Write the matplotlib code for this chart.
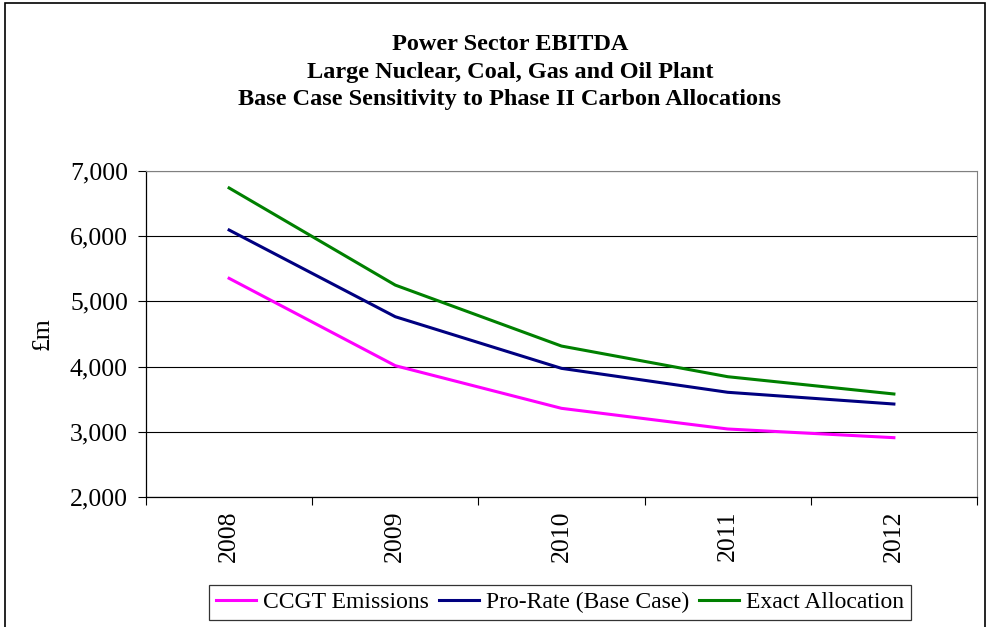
import matplotlib.pyplot as plt
from matplotlib.patches import Rectangle
from matplotlib.ticker import FuncFormatter, FixedLocator

years = ["2008", "2009", "2010", "2011", "2012"]
ccgt_emissions = [5354, 4014, 3360, 3043, 2910]
pro_rate = [6095, 4765, 3973, 3606, 3426]
exact_allocation = [6740, 5250, 4315, 3845, 3580]

title_lines = ["Power Sector EBITDA",
               "Large Nuclear, Coal, Gas and Oil Plant",
               "Base Case Sensitivity to Phase II Carbon Allocations"]

plt.rcParams['font.family'] = ['Liberation Serif', 'DejaVu Serif']
FS = 18.5

fig = plt.figure(figsize=(9.87, 6.27), dpi=100)
ax = fig.add_axes([146 / 987, 1 - 497 / 627, 831 / 987, 326 / 627])

x = list(range(len(years)))
ax.plot(x, ccgt_emissions, color='#ff00ff', lw=2.2, label='CCGT Emissions')
ax.plot(x, pro_rate, color='#000080', lw=2.2, label='Pro-Rate (Base Case)')
ax.plot(x, exact_allocation, color='#008000', lw=2.2, label='Exact Allocation')

ax.set_xlim(-0.5, len(years) - 0.5)
ax.set_ylim(2000, 7000)
ax.set_yticks(range(2000, 7001, 1000))
ax.yaxis.set_major_formatter(FuncFormatter(lambda v, p: f"{int(v):,}"))
ax.yaxis.grid(True, color='black', lw=0.8)
ax.set_axisbelow(True)

# category labels sit in the middle, ticks on the boundaries
ax.set_xticks(x)
ax.set_xticklabels(years, rotation=90, fontsize=FS)
ax.xaxis.set_minor_locator(FixedLocator([i - 0.5 for i in range(len(years) + 1)]))
ax.tick_params(axis='x', which='major', length=0, pad=10)
ax.tick_params(axis='x', which='minor', length=6, width=0.8, direction='out')
ax.tick_params(axis='y', length=6, width=0.8, direction='out', labelsize=FS, pad=7)

for side in ['top', 'right']:
    ax.spines[side].set_color('#808080')
for side in ['left', 'bottom']:
    ax.spines[side].set_color('black')
    ax.spines[side].set_linewidth(0.9)

ax.set_ylabel('£m', fontsize=FS, labelpad=12)

for i, line in enumerate(title_lines):
    fig.text(510 / 987, 1 - (45 + 27.5 * i) / 627, line, ha='center', va='center',
             fontsize=17.5, fontweight='bold')

leg = fig.legend(loc='center', bbox_to_anchor=(560 / 987, 1 - 602.5 / 627), ncol=3,
                 fontsize=17, frameon=True, fancybox=False, edgecolor='black',
                 handlelength=1.7, handletextpad=0.3, columnspacing=0.42,
                 borderpad=0.3, borderaxespad=0)
leg.get_frame().set_linewidth(0.9)

fig.patches.append(Rectangle((5 / 987, -0.02), 980 / 987, 1 - 3 / 627 + 0.02,
                             transform=fig.transFigure, fill=False,
                             edgecolor='black', lw=1.2))

fig.savefig('out.png', dpi=100)
